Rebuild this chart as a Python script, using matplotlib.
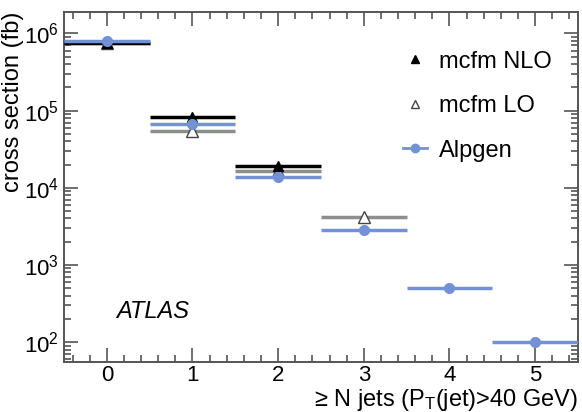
import numpy as np
import matplotlib
matplotlib.use("Agg")
import matplotlib.pyplot as plt
from matplotlib.lines import Line2D
from matplotlib.ticker import MultipleLocator, LogLocator, NullFormatter

plt.rcParams['font.family'] = ['Liberation Sans', 'DejaVu Sans']
plt.rcParams['mathtext.fontset'] = 'custom'
plt.rcParams['mathtext.rm'] = 'Liberation Sans'
plt.rcParams['mathtext.it'] = 'Liberation Sans:italic'

# inclusive jet multiplicity
nlo_n = [0, 1, 2]
nlo_xs = [7.6e5, 8.2e4, 1.93e4]
lo_n = [0, 1, 2, 3]
lo_xs = [7.5e5, 5.5e4, 1.66e4, 4.2e3]
alp_n = [0, 1, 2, 3, 4, 5]
alp_xs = [7.9e5, 6.8e4, 1.4e4, 2.8e3, 5.0e2, 1.0e2]

blue = '#7391d6'
grey = '#8a9088'

fig = plt.figure(figsize=(5.82, 4.12), dpi=100)
ax = fig.add_axes([0.110, 0.121, 0.883, 0.850])

ax.errorbar(nlo_n, nlo_xs, xerr=0.5, fmt='^', color='black', ms=7, lw=2.5,
            capsize=0, zorder=3)
ax.errorbar(lo_n, lo_xs, xerr=0.5, fmt='^', color=grey, mfc='white', mec='#444444',
            ms=8, lw=2.5, capsize=0, zorder=2)
ax.errorbar(alp_n, alp_xs, xerr=0.5, fmt='o', color=blue, ms=7, lw=2.5,
            capsize=0, zorder=4)

ax.set_yscale('log')
ax.set_xlim(-0.5, 5.5)
ax.set_ylim(55, 1.9e6)
ax.xaxis.set_major_locator(MultipleLocator(1))
ax.xaxis.set_minor_locator(MultipleLocator(0.2))
ax.yaxis.set_major_locator(LogLocator(base=10, numticks=10))
ax.yaxis.set_minor_locator(LogLocator(base=10, subs=np.arange(2, 10), numticks=20))
ax.yaxis.set_minor_formatter(NullFormatter())

ax.tick_params(which='both', direction='in', top=True, right=True, labelsize=16,
               color='#555555', width=1.2)
ax.tick_params(which='major', length=10)
ax.tick_params(which='minor', length=5)
ax.tick_params(axis='x', pad=2)
for s in ax.spines.values():
    s.set_linewidth(1.4)
    s.set_color('#555555')

ax.set_ylabel('cross section (fb)', fontsize=17, loc='top', labelpad=0)
ax.set_xlabel('≥ N jets (P$_{\\rm T}$(jet)>40 GeV)', fontsize=17, loc='right', labelpad=1)

ax.text(0.102, 0.125, 'ATLAS', transform=ax.transAxes, fontsize=17, style='italic')

handles = [
    Line2D([], [], ls='none', marker='^', color='black', ms=6),
    Line2D([], [], ls='none', marker='^', mfc='white', mec='#444444', ms=6),
    Line2D([], [], ls='-', lw=2, marker='o', color=blue, ms=6),
]
ax.legend(handles, ['mcfm NLO', 'mcfm LO', 'Alpgen'], loc='upper right',
          bbox_to_anchor=(0.99, 0.95), frameon=False, fontsize=17,
          handlelength=1.0, labelspacing=0.95, handletextpad=0.5)

fig.savefig('out.png', dpi=100)
